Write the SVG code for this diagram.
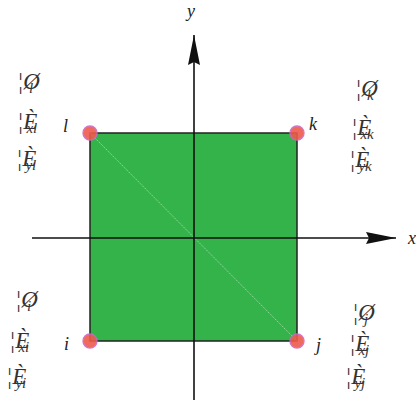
<svg xmlns="http://www.w3.org/2000/svg" width="416" height="402" viewBox="0 0 416 402">
<style>
.lbl{font-family:"Liberation Serif",serif;font-style:italic;font-size:18px;fill:#222}
.g{font-family:"Liberation Serif",serif;font-style:italic;font-size:23px;fill:#333}
.s{font-size:15px}
.ax{stroke:#111;stroke-width:1.6;fill:none}
.pt{fill:#ee5a4c;stroke:#d066bb;stroke-width:1.4;opacity:0.9}
</style>
<defs>
<marker id="ah" viewBox="0 0 30 12" refX="30" refY="6" markerWidth="30" markerHeight="12" markerUnits="userSpaceOnUse" orient="auto">
<path d="M0,0 L30,6 L0,12 L3,6 Z" fill="#111"/>
</marker>
</defs>
<g id="square">
<rect x="90" y="133" width="207" height="208" fill="#35b34b" stroke="#222" stroke-width="1.5"/>
<line x1="90" y1="133" x2="297" y2="341" stroke="#a8e0b0" stroke-width="0.8" stroke-dasharray="1.5,1"/>
</g>
<g id="connectors">
<line class="ax" x1="32" y1="238" x2="396" y2="238" marker-end="url(#ah)"/>
<line class="ax" x1="194" y1="400" x2="194" y2="35" marker-end="url(#ah)"/>
</g>
<g id="axis-labels">
<text class="lbl" x="187" y="17">y</text>
<text class="lbl" x="408" y="244">x</text>
</g>
<g id="node-l">
<circle class="pt" cx="90" cy="133" r="7"/>
<text class="lbl" x="63" y="132">l</text>
<text class="g" x="17" y="89">¦Ø<tspan class="s" dx="-11" dy="4">l</tspan></text>
<text class="g" x="17" y="129">¦È<tspan class="s" dx="-11" dy="4">xl</tspan></text>
<text class="g" x="16" y="166">¦È<tspan class="s" dx="-11" dy="4">yl</tspan></text>
</g>
<g id="node-k">
<circle class="pt" cx="297" cy="133" r="7"/>
<text class="lbl" x="309" y="130">k</text>
<text class="g" x="355" y="96">¦Ø<tspan class="s" dx="-11" dy="4">k</tspan></text>
<text class="g" x="351" y="135">¦È<tspan class="s" dx="-11" dy="4">xk</tspan></text>
<text class="g" x="349" y="167">¦È<tspan class="s" dx="-11" dy="4">yk</tspan></text>
</g>
<g id="node-i">
<circle class="pt" cx="90" cy="341" r="7"/>
<text class="lbl" x="64" y="350">i</text>
<text class="g" x="15" y="307">¦Ø<tspan class="s" dx="-11" dy="4">i</tspan></text>
<text class="g" x="9" y="348">¦È<tspan class="s" dx="-11" dy="4">xi</tspan></text>
<text class="g" x="6" y="384">¦È<tspan class="s" dx="-11" dy="4">yi</tspan></text>
</g>
<g id="node-j">
<circle class="pt" cx="297" cy="341" r="7"/>
<text class="lbl" x="316" y="351">j</text>
<text class="g" x="352" y="320">¦Ø<tspan class="s" dx="-11" dy="4">j</tspan></text>
<text class="g" x="349" y="351">¦È<tspan class="s" dx="-11" dy="4">xj</tspan></text>
<text class="g" x="345" y="384">¦È<tspan class="s" dx="-11" dy="4">yj</tspan></text>
</g>
</svg>
